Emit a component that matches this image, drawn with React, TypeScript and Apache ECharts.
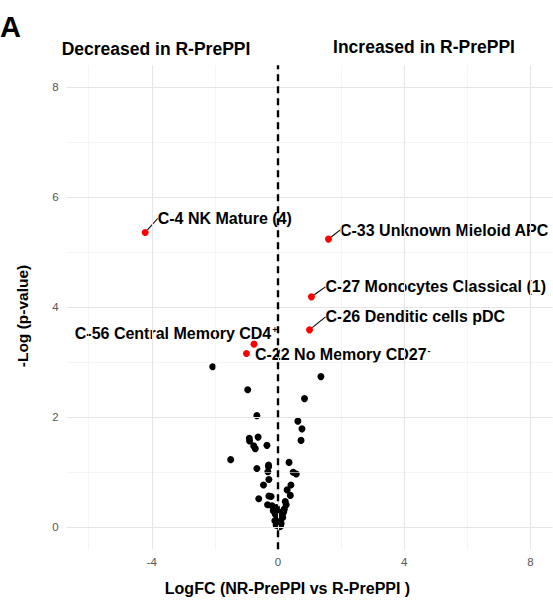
import React, { useEffect, useRef } from 'react';
import * as echarts from 'echarts';

// Non-significant clusters (black)
const nsX = [-2.07, 1.36, -0.96, 0.84, -0.67, 0.63, 0.76, -0.91, -0.63, -0.90, -0.77, -0.72, -0.35, 0.73, -1.50, -0.30, 0.35, -0.67, -0.32, 0.48, 0.58, -0.29, -0.46, 0.41, 0.29, -0.29, -0.22, -0.61, 0.39, 0.23, 0.26, -0.33, -0.19, 0.20, -0.09, 0.13, -0.03, 0.07, 0.00, 0.10, -0.06, 0.04, -0.15, 0.15, -0.10, 0.02, -0.05, 0.08, -0.30, 0.18];
const nsY = [2.92, 2.74, 2.50, 2.34, 2.03, 1.93, 1.79, 1.62, 1.64, 1.57, 1.48, 1.43, 1.49, 1.58, 1.23, 1.13, 1.18, 1.07, 1.01, 1.00, 0.97, 0.87, 0.77, 0.77, 0.68, 0.57, 0.56, 0.52, 0.58, 0.47, 0.41, 0.41, 0.39, 0.33, 0.24, 0.22, 0.16, 0.13, 0.08, 0.07, 0.04, 0.01, 0.30, 0.18, 0.12, 0.28, 0.36, 0.02, 1.10, 0.28];

// Significant clusters (red, labelled)
const sigX = [-4.21, 1.60, 1.06, 1.00, -0.76, -1.00];
const sigY = [5.36, 5.24, 4.19, 3.59, 3.33, 3.16];
const sigLabels = [
  'C-4 NK Mature (4)',
  'C-33 Unknown Mieloid APC',
  'C-27 Monocytes Classical (1)',
  'C-26 Denditic cells pDC',
  'C-56 Central Memory CD4',
  'C-22 No Memory CD27',
];
const sigSuperscripts = ['', '', '', '', '+', '-'];
// label placement relative to point: [dx, dy, align, showLine]
const labelPlacement: [number, number, string, boolean][] = [
  [12.5, -14, 'left', true],
  [11.5, -9, 'left', true],
  [14, -10, 'left', true],
  [16, -13, 'left', true],
  [23.5, -11, 'right', false],
  [8.5, 1, 'left', false],
];

const xTickLabels = [-4, 0, 4, 8];
const yTickLabels = [0, 2, 4, 6, 8];
const xMajorGrid = [-4, 0, 4, 8];
const xMinorGrid = [-6, -2, 2, 6];
const yMajorGrid = [0, 2, 4, 6, 8];
const yMinorGrid = [1, 3, 5, 7];

const FONT = '"Liberation Sans", Arial, "DejaVu Sans", sans-serif';

export default function App() {
  const ref = useRef<HTMLDivElement>(null);
  useEffect(() => {
    const chart = echarts.init(ref.current!, null, { renderer: 'svg' });
    const majorStyle = { color: '#e5e5e5', width: 1.1, type: 'solid' as const };
    const minorStyle = { color: '#efefef', width: 0.6, type: 'solid' as const };
    const gridLines = [
      ...xMinorGrid.map((v) => ({ xAxis: v, lineStyle: minorStyle })),
      ...yMinorGrid.map((v) => ({ yAxis: v, lineStyle: minorStyle })),
      ...xMajorGrid.map((v) => ({ xAxis: v, lineStyle: majorStyle })),
      ...yMajorGrid.map((v) => ({ yAxis: v, lineStyle: majorStyle })),
    ];
    const option: any = {
      animation: false,
      backgroundColor: '#ffffff',
      textStyle: { fontFamily: FONT },
      grid: { left: 66.6, top: 65.3, width: 485.9, height: 484 },
      xAxis: {
        type: 'value',
        min: -6.7,
        max: 8.7,
        axisLine: { show: false },
        axisTick: { show: false },
        splitLine: { show: false },
        axisLabel: {
          customValues: xTickLabels,
          color: '#555',
          fontSize: 11.5,
          margin: 7,
          fontFamily: FONT,
        },
      },
      yAxis: {
        type: 'value',
        min: -0.4,
        max: 8.4,
        axisLine: { show: false },
        axisTick: { show: false },
        splitLine: { show: false },
        axisLabel: {
          customValues: yTickLabels,
          color: '#555',
          fontSize: 11.5,
          margin: 8,
          fontFamily: FONT,
        },
      },
      series: [
        {
          type: 'scatter',
          data: [],
          silent: true,
          z: 0,
          markLine: {
            silent: true,
            symbol: ['none', 'none'],
            label: { show: false },
            emphasis: { disabled: true },
            data: gridLines,
          },
        },
        {
          type: 'scatter',
          data: [],
          silent: true,
          z: 1,
          markLine: {
            silent: true,
            symbol: ['none', 'none'],
            label: { show: false },
            emphasis: { disabled: true },
            data: [{ xAxis: 0, lineStyle: { color: '#000', width: 2.4, type: [7, 5] } }],
          },
        },
        {
          type: 'scatter',
          z: 3,
          symbolSize: 7,
          itemStyle: { color: '#000000', opacity: 1 },
          data: nsX.map((x, i) => [x, nsY[i]]),
        },
        {
          type: 'scatter',
          z: 4,
          symbolSize: 7,
          itemStyle: { color: '#ff0000', opacity: 1 },
          data: sigX.map((x, i) => ({
            value: [x, sigY[i]],
            name: sigLabels[i],
            labelLine: { show: labelPlacement[i][3] },
          })),
          label: {
            show: true,
            formatter: (p: any) => {
              const sup = sigSuperscripts[p.dataIndex];
              return sup ? `${p.name}{sup|${sup}}` : p.name;
            },
            position: 'right',
            color: '#000',
            fontWeight: 'bold',
            fontSize: 16,
            fontFamily: FONT,
            rich: {
              sup: {
                fontSize: 9,
                fontWeight: 'bold',
                color: '#000',
                fontFamily: FONT,
                verticalAlign: 'top',
                padding: [0, 0, 0, 1],
              },
            },
          },
          labelLine: { show: true, lineStyle: { color: '#000', width: 1.1 } },
          labelLayout: (params: any) => {
            const pl = labelPlacement[params.dataIndex];
            const cx = params.rect.x + params.rect.width / 2;
            const cy = params.rect.y + params.rect.height / 2;
            return {
              x: cx + pl[0],
              y: cy + pl[1],
              align: pl[2],
              verticalAlign: 'middle',
            };
          },
        },
      ],
      graphic: [
        {
          type: 'text',
          left: 0,
          top: 12,
          style: { text: 'A', font: `bold 29px ${FONT}`, fill: '#000' },
        },
        {
          type: 'text',
          x: 156,
          y: 48.5,
          style: {
            text: 'Decreased in R-PrePPI',
            font: `bold 17.5px ${FONT}`,
            fill: '#000',
            align: 'center',
            verticalAlign: 'middle',
          },
        },
        {
          type: 'text',
          x: 424,
          y: 46.5,
          style: {
            text: 'Increased in R-PrePPI',
            font: `bold 17.5px ${FONT}`,
            fill: '#000',
            align: 'center',
            verticalAlign: 'middle',
          },
        },
        {
          type: 'text',
          x: 287.5,
          y: 588,
          style: {
            text: 'LogFC (NR-PrePPI vs R-PrePPI )',
            font: `bold 16px ${FONT}`,
            fill: '#000',
            align: 'center',
            verticalAlign: 'middle',
          },
        },
        {
          type: 'text',
          x: 22,
          y: 316,
          rotation: Math.PI / 2,
          style: {
            text: '-Log (p-value)',
            font: `bold 15.5px ${FONT}`,
            fill: '#000',
            align: 'center',
            verticalAlign: 'middle',
          },
        },
      ],
    };
    chart.setOption(option);
    return () => chart.dispose();
  }, []);
  return (
    <div
      ref={ref}
      style={{ position: 'absolute', left: 0, top: 0, width: 553, height: 602, background: '#fff' }}
    />
  );
}
